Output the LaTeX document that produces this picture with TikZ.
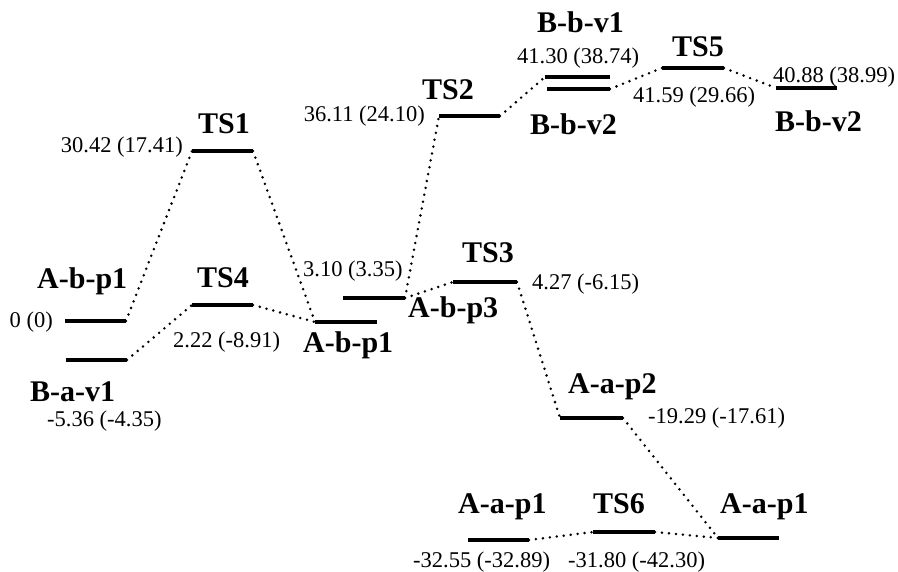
\documentclass[tikz,border=0pt]{standalone}
\usepackage{fontspec}
\setmainfont{Liberation Serif}
\newcommand\energylevel[4]{%
  \coordinate (#1-l) at (#2,#4);
  \coordinate (#1-r) at (#3,#4);
  \draw[bar] (#1-l) -- (#1-r);}
\begin{document}
\begin{tikzpicture}[x=1pt,y=-1pt,
  bar/.style={line width=3.2pt},
  conn/.style={line width=2.8pt, line cap=round, dash pattern=on 0pt off 7pt},
  lab/.style={inner sep=0pt, anchor=base west, font=\fontsize{30}{36}\selectfont\bfseries},
  val/.style={inner sep=0pt, anchor=base west, font=\fontsize{22.5}{27}\selectfont}]
\useasboundingbox (0,0) rectangle (898,572);
% levels
\energylevel{Abp1L}{65}{126}{321}
\energylevel{Bav1}{66}{127}{360}
\energylevel{TS1}{192}{253}{151}
\energylevel{TS4}{192}{253}{305}
\energylevel{Abp1M}{315}{377}{322}
\energylevel{Abp3}{343}{405}{298}
\energylevel{TS2}{439}{500}{116}
\energylevel{TS3}{453}{517}{282}
\energylevel{Bbv1}{545}{610}{77}
\energylevel{Bbv2M}{547}{610}{89}
\energylevel{TS5}{662}{724}{68}
\energylevel{Bbv2R}{776}{837}{88}
\energylevel{Aap2}{560}{623}{418}
\energylevel{Aap1L}{468}{529}{540}
\energylevel{TS6}{593}{655}{532}
\energylevel{Aap1R}{718}{779}{538}
% connectors
\draw[conn] (Abp1L-r) -- (TS1-l);
\draw[conn] (TS1-r) -- (Abp1M-l);
\draw[conn] (Bav1-r) -- (TS4-l);
\draw[conn] (TS4-r) -- (Abp1M-l);
\draw[conn] (Abp3-r) -- (TS2-l);
\draw[conn] (Abp3-r) -- (TS3-l);
\draw[conn] (TS2-r) -- (Bbv1-l);
\draw[conn] (Bbv2M-r) -- (TS5-l);
\draw[conn] (TS5-r) -- (Bbv2R-l);
\draw[conn] (TS3-r) -- (Aap2-l);
\draw[conn] (Aap2-r) -- (Aap1R-l);
\draw[conn] (Aap1L-r) -- (TS6-l);
\draw[conn] (TS6-r) -- (Aap1R-l);
% labels
\node[lab] (tAbp1L) at (37,289) {A-b-p1};
\node[val, anchor=base east] (vAbp1L) at (53,328) {0 (0)};
\node[lab] (tBav1) at (30,402) {B-a-v1};
\node[val] (vBav1) at (47,427) {-5.36 (-4.35)};
\node[val, anchor=base east] (vTS1) at (183,153) {30.42 (17.41)};
\node[lab] (tTS1) at (198,134) {TS1};
\node[lab] (tTS4) at (197,288) {TS4};
\node[val] (vTS4) at (173,348) {2.22 (-8.91)};
\node[lab] (tAbp1M) at (303,353) {A-b-p1};
\node[val] (vAbp3) at (303,277) {3.10 (3.35)};
\node[lab] (tAbp3) at (408,318) {A-b-p3};
\node[val, anchor=base east] (vTS2) at (425,122) {36.11 (24.10)};
\node[lab] (tTS2) at (422,100) {TS2};
\node[lab] (tTS3) at (462,263) {TS3};
\node[val] (vTS3) at (532,290) {4.27 (-6.15)};
\node[lab] (tBbv1) at (537,33) {B-b-v1};
\node[val] (vBbv1) at (517,64) {41.30 (38.74)};
\node[lab] (tBbv2M) at (530,135) {B-b-v2};
\node[lab] (tTS5) at (672,57) {TS5};
\node[val] (vTS5) at (633,103) {41.59 (29.66)};
\node[val] (vBbv2R) at (773,83) {40.88 (38.99)};
\node[lab] (tBbv2R) at (775,132) {B-b-v2};
\node[lab] (tAap2) at (568,394) {A-a-p2};
\node[val] (vAap2) at (648,424) {-19.29 (-17.61)};
\node[lab] (tAap1L) at (458,513) {A-a-p1};
\node[lab] (tTS6) at (593,513) {TS6};
\node[lab] (tAap1R) at (720,513) {A-a-p1};
\node[val] (vAap1L) at (413,567) {-32.55 (-32.89)};
\node[val] (vTS6) at (568,567) {-31.80 (-42.30)};
\end{tikzpicture}
\end{document}
